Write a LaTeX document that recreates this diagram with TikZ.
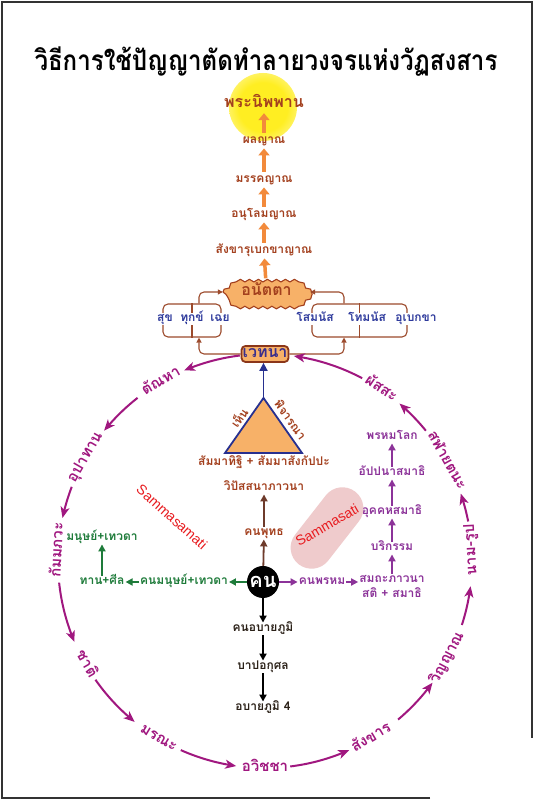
\documentclass[tikz,border=0pt]{standalone}
\usepackage{fontspec}
\setmainfont{Liberation Sans}
\newfontfamily\thai[Script=Thai]{Loma}
\newfontfamily\thaiT[Script=Thai, FakeStretch=0.86]{Loma}
\usetikzlibrary{arrows.meta,bending,calc,decorations.pathmorphing}

\definecolor{brn}{HTML}{A3401E}
\definecolor{orng}{HTML}{F28A3B}
\definecolor{ofill}{HTML}{F7B168}
\definecolor{mag}{HTML}{A0177F}
\definecolor{pur}{HTML}{8C3399}
\definecolor{grn}{HTML}{1E7B3A}
\definecolor{navy}{HTML}{27308F}
\definecolor{blu}{HTML}{2E3A9C}
\definecolor{vtext}{HTML}{3A2F8C}
\definecolor{dtext}{HTML}{2B2118}
\definecolor{sred}{HTML}{E81A1E}
\definecolor{blobpink}{HTML}{EFCBCC}
\definecolor{brline}{HTML}{9C4A2C}
\definecolor{dkbr}{HTML}{6E3B2B}
\definecolor{glowy}{HTML}{FFEE22}
\definecolor{glowb}{HTML}{FFF79A}

\pgfdeclareradialshading{glow}{\pgfpoint{0bp}{0bp}}{color(0bp)=(glowy); color(18bp)=(glowy); color(32bp)=(glowb); color(46bp)=(white); color(50bp)=(white)}

\begin{document}
\begin{tikzpicture}[x=1pt,y=1pt,
  lab/.style={inner sep=1pt, font=\thai\bfseries\fontsize{12}{14}\selectfont, text height=8pt, text depth=2.5pt},
  clab/.style={inner sep=1pt, font=\thai\bfseries\fontsize{15}{18}\selectfont, text=mag, text height=10pt, text depth=3pt},
  biglab/.style={inner sep=1pt, font=\thai\bfseries\fontsize{16}{19}\selectfont, text height=11pt, text depth=3pt},
  sam/.style={inner sep=0pt, font=\fontsize{14}{16}\selectfont, text=sred},
  oarr/.style={draw=orng, line width=3.5pt, -{Triangle[length=7pt,width=11pt]}, shorten <=2pt, shorten >=1pt},
  carr/.style={draw=mag, line width=2pt, -{Stealth[length=11pt,width=9pt,inset=3pt,bend]}},
  sarr/.style={line width=1.8pt, -{Triangle[length=7pt,width=7pt]}},
  brarr/.style={draw=brline, line width=1.1pt, rounded corners=5pt, -{Triangle[length=5pt,width=5pt]}},
  bkt/.style={draw=brline, line width=1.1pt, rounded corners=5pt, minimum height=33pt, inner sep=0pt},
]
\useasboundingbox (0,0) rectangle (536,801);
\fill[white] (0,0) rectangle (536,801);
% frame
\draw[line width=1.2pt, draw=black!80] (430,801-798) -- (2,801-798) -- (2,801-2) -- (532,801-2) -- (532,801-738);

% glow
\shade[shading=glow] (263,801-107) circle[radius=34];

% title
\node[font=\thaiT\bfseries\fontsize{28}{32}\selectfont, inner sep=0pt] (title) at (266,801-62) {วิธีการใช้ปัญญาตัดทำลายวงจรแห่งวัฏสงสาร};

% top chain
\node[biglab, text=brn] (nib) at (264,801-104) {พระนิพพาน};
\node[lab, text=brn] (phala) at (264,801-141) {ผลญาณ};
\node[lab, text=brn] (magga) at (264,801-180) {มรรคญาณ};
\node[lab, text=brn] (anuloma) at (264,801-215) {อนุโลมญาณ};
\node[lab, text=brn] (sankharu) at (264,801-251) {สังขารุเบกขาญาณ};

% anatta shape
\filldraw[fill=ofill, draw=brn, line width=1.1pt, decorate, decoration={snake, amplitude=1.3pt, segment length=9pt}]
  (223,801-292) -- (235,801-281) -- (298,801-281) -- (310,801-292) -- (298,801-303) -- (235,801-303) -- cycle;
\node[biglab, text=brn, minimum width=87pt, minimum height=23pt, inner sep=0pt] (anatta) at (266.5,801-292) {อนัตตา};

\draw[oarr] (phala) -- (nib);
\draw[oarr] (magga) -- (phala);
\draw[oarr] (anuloma) -- (magga);
\draw[oarr] (sankharu) -- (anuloma);
\draw[oarr] (anatta) -- (sankharu);

% feeling brackets
\node[bkt, minimum width=58pt] (lbox) at (192,801-320.5) {};
\node[bkt, minimum width=95pt] (rbox) at (359.5,801-320.5) {};
\draw[brline, line width=1.1pt] (lbox.north) -- (lbox.south);
\draw[brline, line width=1.1pt] (rbox.north) -- (rbox.south);
\node[lab, text=blu, fill=white] (sukha) at (165,801-319) {สุข};
\node[lab, text=blu, fill=white] (dukkha) at (192,801-319) {ทุกข์};
\node[lab, text=blu, fill=white] (choei) at (220,801-319) {เฉย};
\node[lab, text=blu, fill=white] (soma) at (315,801-319) {โสมนัส};
\node[lab, text=blu, fill=white] (doma) at (367,801-319) {โทมนัส};
\node[lab, text=blu, fill=white] (upek) at (416,801-319) {อุเบกขา};

% circle centre
\coordinate (C) at (265,801-561);
\coordinate (lx) at (199,801-320);
\coordinate (rx) at (344,801-320);

% vedana
\node[draw=brn!85!black, line width=1.8pt, fill=ofill, rounded corners=4pt, minimum width=47pt, minimum height=16pt, inner sep=0pt,
  font=\thai\bfseries\fontsize{16}{19}\selectfont, text=vtext, text height=11pt, text depth=3pt] (vedana) at ($(C)+(90:207)$) {เวทนา};

\draw[brarr] (vedana.west) -| (lx |- lbox.south);
\draw[brarr] (lx |- lbox.north) |- (anatta.west);
\draw[brarr] (vedana.east) -| (rx |- rbox.south);
\draw[brarr] (rx |- rbox.north) |- (anatta.east);

% triangle
\coordinate (apex) at (263.5,801-398);
\coordinate (bl) at (225,801-453);
\coordinate (br) at (302,801-453);
\filldraw[fill=ofill, draw=navy, line width=1.8pt, line join=miter] (apex) -- (bl) -- (br) -- cycle;
\draw[draw=navy, line width=1.8pt, -{Triangle[length=8pt,width=8pt]}] (apex) -- (apex |- vedana.south);
\node[lab, text=brn, rotate=55] (hen) at (241,801-419) {เห็น};
\node[lab, text=brn, rotate=-55] (pijarana) at (289,801-421) {พิจารณา};

% central chain
\node[lab, text=brn] (samma) at (264,801-463) {สัมมาทิฐิ + สัมมาสังกัปปะ};
\node[lab, text=brn] (vipas) at (264,801-488) {วิปัสสนาภาวนา};
\node[lab, text=brn] (buddha) at (264,801-533) {คนพุทธ};
\node[circle, fill=black, minimum size=32pt, inner sep=0pt, text=white,
  font=\thai\bfseries\fontsize{20}{24}\selectfont] (khon) at (263,801-582) {คน};
\draw[sarr, draw=dkbr] (khon) -- (buddha);
\draw[sarr, draw=dkbr] (buddha) -- (vipas);

% human branch
\node[lab, text=grn] (mnode) at (184,801-582) {คนมนุษย์+เทวดา};
\node[lab, text=grn] (dana) at (102,801-582) {ทาน+ศีล};
\node[lab, text=grn] (manus) at (102,801-538) {มนุษย์+เทวดา};
\draw[sarr, draw=grn] (khon) -- (mnode);
\draw[sarr, draw=grn] (mnode) -- (dana);
\draw[sarr, draw=grn] (dana) -- (manus);

% brahma branch
\node[lab, text=pur] (brahma) at (322,801-582) {คนพรหม};
\node[lab, text=pur] (samatha) at (392,801-580) {สมถะภาวนา};
\node[lab, text=pur] (sati) at (392,801-595) {สติ + สมาธิ};
\node[lab, text=pur] (parik) at (392,801-548) {บริกรรม};
\node[lab, text=pur] (uggaha) at (392,801-512) {อุคคหสมาธิ};
\node[lab, text=pur] (appana) at (392,801-473) {อัปปนาสมาธิ};
\node[lab, text=pur] (bloka) at (392,801-437) {พรหมโลก};
\draw[sarr, draw=pur] (khon) -- (brahma);
\draw[sarr, draw=pur] (brahma.east) -- (brahma.east -| samatha.west);
\draw[sarr, draw=pur] (samatha) -- (parik);
\draw[sarr, draw=pur] (parik) -- (uggaha);
\draw[sarr, draw=pur] (uggaha) -- (appana);
\draw[sarr, draw=pur] (appana) -- (bloka);

% woeful branch
\node[lab, text=dtext] (apaya1) at (263,801-629) {คนอบายภูมิ};
\node[lab, text=dtext] (papa) at (263,801-667) {บาปอกุศล};
\node[lab, text=dtext] (apaya4) at (263,801-708) {อบายภูมิ 4};
\draw[sarr, draw=black] (khon) -- (apaya1);
\draw[sarr, draw=black] (apaya1) -- (papa);
\draw[sarr, draw=black] (papa) -- (apaya4);

% sammasamati / sammasati
\node[sam, rotate=-42] (ssam) at (172,801-517) {Sammasamati};
\node[fill=blobpink, rounded corners=21pt, minimum width=92pt, minimum height=42pt, rotate=52, inner sep=0pt] (blob) at (327,801-528) {};
\node[sam, rotate=30] (ssati) at (327,801-525) {Sammasati};

% wheel labels
\node[clab, rotate=-34] (phassa) at ($(C)+(56:207)$) {ผัสสะ};
\node[clab, rotate=-61] (salaya) at ($(C)+(29:207)$) {สฬายตนะ};
\node[clab, rotate=93] (nama) at ($(C)+(3:207)$) {นาม-รูป};
\node[clab, rotate=62] (vinn) at ($(C)+(-28:207)$) {วิญญาณ};
\node[clab, rotate=31] (sankh) at ($(C)+(-59:207)$) {สังขาร};
\node[clab] (avijja) at ($(C)+(-90:207)$) {อวิชชา};
\node[clab, rotate=-31] (marana) at ($(C)+(-121:207)$) {มรณะ};
\node[clab, rotate=-60] (jati) at ($(C)+(-150:207)$) {ชาติ};
\node[clab, rotate=87] (bhava) at ($(C)+(177:207)$) {กัมมภวะ};
\node[clab, rotate=60] (upadana) at ($(C)+(150:207)$) {อุปาทาน};
\node[clab, rotate=30] (tanha) at ($(C)+(120:207)$) {ตัณหา};

\foreach \a/\b in {97/113, 128/141, 159/168, 186/203, 215/231, 246/262, 277/294, 310/324, 342/353, 11/19, 39/49.5, 62/82}
  \draw[carr] ($(C)+(\a:207)$) arc[start angle=\a, end angle=\b, radius=207];
\end{tikzpicture}
\end{document}
